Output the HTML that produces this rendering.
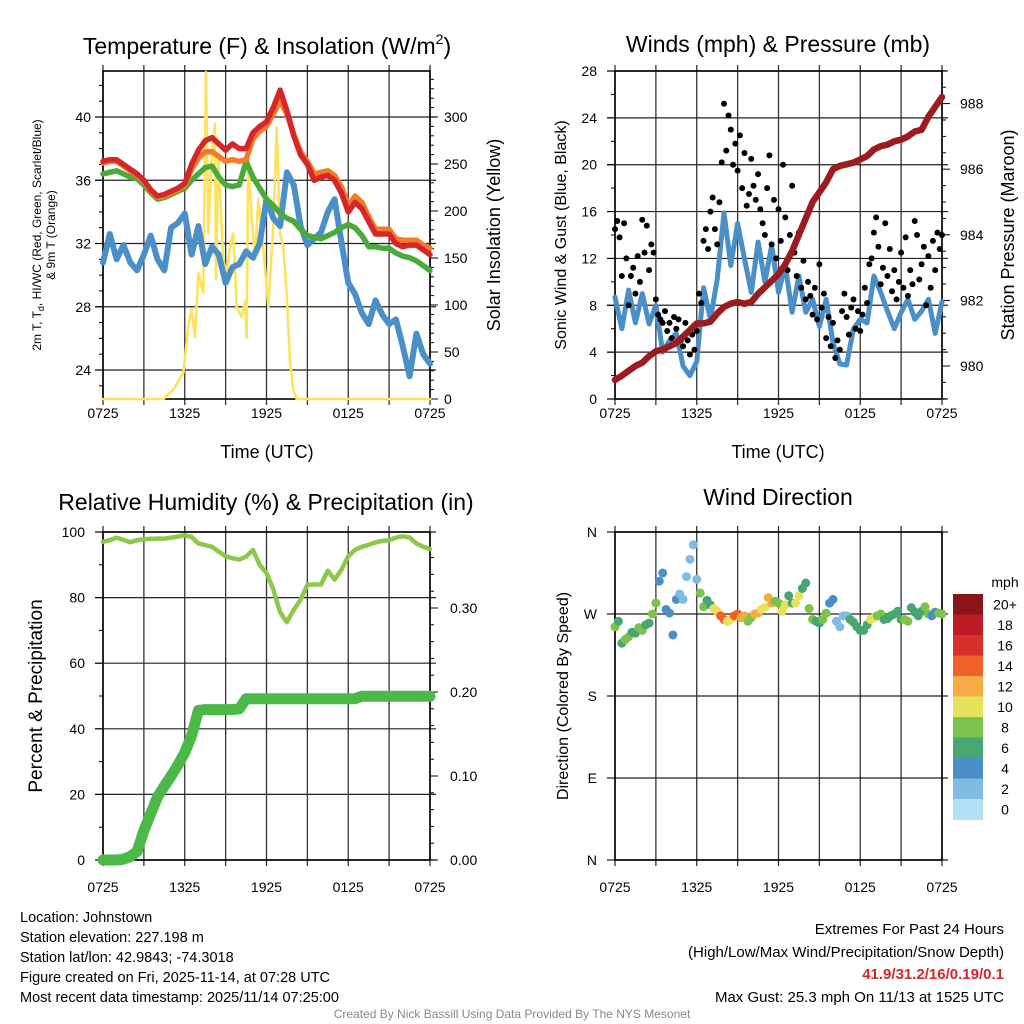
<!DOCTYPE html>
<html><head><meta charset="utf-8"><style>
html,body{margin:0;padding:0;background:#fff;}
svg{display:block;font-family:"Liberation Sans",sans-serif;}
</style></head><body>
<svg id="c" width="1024" height="1024" viewBox="0 0 1024 1024"></svg>
<script>
const timeTicks=["0725","1325","1925","0125","0725"];
const tempRed=[37.2,37.3,37.3,37.0,36.7,36.4,36.0,35.4,35.0,35.1,35.3,35.5,35.8,37.0,37.9,38.5,38.7,38.3,37.9,38.3,38.0,38.0,39.0,39.4,39.7,40.6,41.7,40.4,38.8,37.6,37.0,36.0,36.2,36.3,36.0,35.2,34.0,34.6,34.2,33.4,32.6,32.6,32.6,32.0,31.8,31.9,31.9,31.6,31.3];
const tempOrange=[37.1,37.2,37.2,36.9,36.6,36.3,35.9,35.3,34.9,35.0,35.2,35.4,35.7,36.7,37.4,37.8,37.8,37.5,37.2,37.3,37.2,37.3,38.6,39.1,39.4,40.2,41.0,40.2,38.9,37.8,37.2,36.4,36.5,36.6,36.3,35.6,34.4,35.0,34.6,33.7,32.9,32.9,32.9,32.3,32.2,32.2,32.2,31.9,31.7];
const tempGreen=[36.4,36.5,36.6,36.4,36.2,36.1,35.7,35.2,34.8,34.9,35.1,35.3,35.5,36.0,36.4,36.8,36.9,36.2,35.7,35.6,35.7,37.2,36.2,35.5,34.8,34.4,33.9,33.6,33.4,32.9,32.5,32.4,32.3,32.5,32.7,33.0,33.2,33.0,32.5,31.8,31.8,31.7,31.7,31.4,31.2,31.1,30.9,30.6,30.3];
const tempBlue=[30.8,32.6,31.0,31.9,30.8,30.3,31.3,32.5,31.0,30.3,33.0,33.3,33.9,31.3,33.1,30.7,31.8,31.3,29.5,30.5,30.7,31.5,31.1,32.0,34.8,33.6,33.1,36.5,35.7,33.1,31.9,32.3,32.7,34.0,34.8,32.1,29.5,28.8,27.6,26.9,28.4,27.5,26.9,27.2,25.5,23.6,26.3,25.0,24.4];
const solarHours=[0,4.43,5.16,5.90,6.26,6.51,6.75,7.00,7.36,7.56,7.73,7.97,8.22,8.29,8.46,8.83,9.08,9.32,9.56,9.81,10.18,10.42,10.54,10.66,10.91,11.16,11.40,11.76,12.13,12.50,12.75,12.99,13.23,13.48,13.72,13.97,14.21,24];
const solarVals=[0,0,10,28,77,96,66,134,113,348,176,254,293,127,258,148,134,162,176,98,87,104,65,255,195,148,213,162,98,184,289,176,162,113,41,10,0,0];
const windSpeed=[8.7,6.0,9.3,6.5,9.0,6.4,8.0,4.0,5.0,5.6,2.8,2.0,3.2,9.5,6.8,10.2,15.9,11.4,15.0,12.0,9.1,13.4,10.0,13.1,9.1,11.4,7.4,10.5,7.4,8.5,6.2,8.5,4.8,3.0,2.9,6.0,6.8,6.5,10.5,9.1,7.5,6.0,7.4,8.5,6.8,7.5,8.5,5.6,8.3];
const pressure=[979.58,979.7,979.85,980.0,980.1,980.3,980.45,980.5,980.6,980.7,980.9,981.1,981.3,981.3,981.35,981.6,981.8,981.9,981.95,981.9,981.95,982.2,982.4,982.6,982.8,983.1,983.5,984.0,984.5,985.0,985.3,985.6,986.0,986.1,986.15,986.2,986.3,986.4,986.6,986.7,986.75,986.85,986.9,987.0,987.15,987.2,987.6,987.9,988.2];
const gust=[14.5,15.2,13.8,10.5,15.0,12.0, 8.0,10.5,11.2,9.0,12.2,10.0, 15.3,12.5,14.8,11.0,13.2,12.5, 8.5,7.2,6.8,6.5,7.5,5.8, 6.5,5.2,7.0,6.0,6.8,5.0, 4.5,6.5,5.0,3.8,5.5,4.2, 5.8,9.0,8.2,13.5,14.5,12.8, 16.0,17.2,14.5,13.2,16.8,20.2, 25.2,21.2,24.2,23.0,20.0,21.8, 19.5,22.5,18.0,21.0,16.5,17.5, 20.5,18.2,17.0,19.2,16.2,15.0, 14.0,18.0,20.8,13.2,17.0,12.0, 16.2,13.5,20.0,15.5,11.0,14.0, 18.2,12.5,10.5,14.2,9.5,11.8, 8.5,10.0,8.8,7.2,9.5,6.8, 11.5,7.8,9.0,5.2,7.0,4.5, 6.5,3.5,5.0,4.2,7.5,9.0, 7.0,5.5,7.8,8.5,6.0,7.5, 5.8,7.2,9.5,8.2,11.5,12.0, 14.2,15.5,13.0,9.8,11.2,15.0, 10.5,12.8,9.2,11.0,8.5,10.0, 12.5,9.5,13.8,8.8,11.0,9.8, 15.2,14.0,10.2,11.5,13.0,8.0, 12.2,9.5,13.5,11.0,14.2,12.8, 14.0];
const rh=[97.0,97.5,98.3,97.6,96.9,97.5,97.8,97.9,98.0,98.0,98.3,98.6,99.0,98.5,96.5,96.0,95.5,94.0,92.6,92.0,91.6,92.5,94.5,90.0,87.5,82.5,75.5,72.5,76.3,79.4,83.9,84.0,84.0,88.2,85.5,88.5,92.6,94.6,95.5,96.1,96.8,97.3,97.5,98.3,98.7,98.3,96.5,95.5,94.8];
const precip=[0,0,0,0.001,0.004,0.01,0.035,0.055,0.075,0.088,0.1,0.113,0.128,0.148,0.178,0.179,0.179,0.179,0.179,0.179,0.180,0.192,0.192,0.192,0.192,0.192,0.192,0.192,0.192,0.192,0.192,0.192,0.192,0.192,0.192,0.192,0.192,0.192,0.195,0.195,0.195,0.195,0.195,0.195,0.195,0.195,0.195,0.195,0.195];
const windDir=[256,262,238,242,245, 250,249,255,252, 258,260,270,282, 306,315,275,271, 247,286,292,286, 311,330,346,308, 293,278,285,280, 276,273,268,264, 262,264,268,270, 266,268,262,266, 270,271,275,277, 288,282,284,282, 273,280,290,282, 282,290,298,304, 276,264,262,260, 264,271,282,286, 262,256,268,268, 264,261,256,252, 252,258,264,266, 268,270,264,265, 268,270,273,264, 264,262,277,272, 268,273,278,270, 268,272,271,270];
const speedBinColors=["#b3e2f7","#7fbbe3","#4a8fc7","#48a673","#7dc24a","#e6e25a","#f6ab44","#ef6128","#d9302a","#bb1c26","#8b1419"];
const speedBinLabels=["0","2","4","6","8","10","12","14","16","18","20+"];

const NS="http://www.w3.org/2000/svg";
const svg=document.getElementById('c');
function el(tag,attrs,parent){const e=document.createElementNS(NS,tag);for(const k in attrs)e.setAttribute(k,attrs[k]);(parent||svg).appendChild(e);return e;}
function txt(s,attrs,parent){const e=el('text',attrs,parent);e.textContent=s;return e;}
const W=327;
function xT(x0,h){return x0+h/24*W;}
function linePath(xs,ys){return xs.map((x,i)=>(i?'L':'M')+x.toFixed(1)+' '+ys[i].toFixed(1)).join(' ');}

function frame(x0,y0,y1,hLines,name){
  const g=el('g',{});
  
  
  for(let k=0;k<=8;k++){const x=x0+k*W/8;el('line',{x1:x,x2:x,y1:y0-6,y2:y1+6,stroke:'#333','stroke-width':1.3},g);}
  hLines.forEach(y=>el('line',{x1:x0-8,x2:x0+W+6,y1:y,y2:y,stroke:'#222','stroke-width':1.2},g));
  el('rect',{x:x0,y:y0,width:W,height:y1-y0,fill:'none',stroke:'#000','stroke-width':1.6},g);
}
function xLabels(x0,y,name){
  timeTicks.forEach((t,k)=>{const e=txt(t,{x:x0+k*W/4,y:y,'font-size':14,'text-anchor':'middle'});
    
    });
}
function title(s,x,y,name,size){const e=txt(s,{x:x,y:y,'font-size':size||23,'text-anchor':'middle'});
  
  return e;}
function vtitle(s,x,y,size,name){const e=txt(s,{x:0,y:0,'font-size':size,'text-anchor':'middle',transform:`translate(${x},${y}) rotate(-90)`});
  
  return e;}
function series(d,color,w,name,opac){const p=el('path',{d:d,fill:'none',stroke:color,'stroke-width':w,'stroke-linejoin':'round','stroke-linecap':'round',opacity:opac||1});
  
  return p;}

/* ---------- Panel 1: Temperature ---------- */
{
const x0=103,y0=71,y1=399;
const yT=v=>370-(v-24)*15.8125, yS=v=>399-v*0.94;
const tTicks=[24,28,32,36,40];
frame(x0,y0,y1,tTicks.map(yT),'temperature');
for(let v=23;v<=42;v++){el('line',{x1:x0-(v%4===0?8:4),x2:x0,y1:yT(v),y2:yT(v),stroke:'#000'});}
tTicks.forEach(v=>{const e=txt(String(v),{x:x0-12,y:yT(v)+5,'font-size':14,'text-anchor':'end'});
  
  });
for(let v=0;v<=340;v+=10){el('line',{x1:x0+W,x2:x0+W+(v%50===0?8:4),y1:yS(v),y2:yS(v),stroke:'#000'});}
for(let v=0;v<=300;v+=50){const e=txt(String(v),{x:x0+W+14,y:yS(v)+5,'font-size':14});
  
  }
const xs=tempRed.map((_,i)=>xT(x0,i/2));
series(linePath(solarHours.map(h=>xT(x0,h)),solarVals.map(yS)),'#fde35b',2.6,'solar-insolation-line');
series(linePath(xs,tempBlue.map(yT)),'#4a8fc7',6,'wind-chill-line');
series(linePath(xs,tempGreen.map(yT)),'#4bab3a',5.5,'dewpoint-line');
series(linePath(xs,tempOrange.map(yT)),'#f07c2b',5.5,'temp-9m-line');
series(linePath(xs,tempRed.map(yT)),'#d7262a',5.5,'temp-2m-line');
const tt=el('text',{x:267,y:54,'font-size':23,'text-anchor':'middle'});


tt.innerHTML='Temperature (F) &amp; Insolation (W/m<tspan font-size="14" dy="-10">2</tspan><tspan dy="10">)</tspan>';
xLabels(x0,418,'temperature');
title('Time (UTC)',267,458,'temperature-x-axis-title',18);
vtitle('Solar Insolation (Yellow)',500,235,18,'solar-y-axis-title');
const yt=txt('',{x:0,y:0,'font-size':12,'text-anchor':'middle',transform:'translate(41,235) rotate(-90)'});


yt.innerHTML='2m T, T<tspan font-size="9" dy="3">d</tspan><tspan dy="-3">, HI/WC (Red, Green, Scarlet/Blue)</tspan>';
const yt2=txt('& 9m T (Orange)',{x:0,y:0,'font-size':12,'text-anchor':'middle',transform:'translate(55,235) rotate(-90)'});


}

/* ---------- Panel 2: Winds & Pressure ---------- */
{
const x0=615,y0=71,y1=399;
const yW=v=>399-v*328/28, yP=v=>366-(v-980)*32.8;
const wTicks=[0,4,8,12,16,20,24,28];
frame(x0,y0,y1,wTicks.map(yW),'winds');
for(let v=0;v<=28;v+=2){el('line',{x1:x0-(v%4===0?8:4),x2:x0,y1:yW(v),y2:yW(v),stroke:'#000'});}
wTicks.forEach(v=>{const e=txt(String(v),{x:x0-18,y:yW(v)+5,'font-size':14,'text-anchor':'end'});
  
  });
for(let v=979;v<=989;v+=0.5){el('line',{x1:x0+W,x2:x0+W+(Math.abs(v%2)<0.01?8:4),y1:yP(v),y2:yP(v),stroke:'#000'});}
for(let v=980;v<=988;v+=2){const e=txt(String(v),{x:x0+W+18,y:yP(v)+5,'font-size':14});
  
  }
const xs=windSpeed.map((_,i)=>xT(x0,i/2));
series(linePath(xs,windSpeed.map(yW)),'#4a8fc7',5,'sonic-wind-line');
const g=el('g',{});


gust.forEach((v,i)=>{const c=el('circle',{cx:xT(x0,i/6),cy:yW(v),r:3,fill:'#000'},g);
  
  });
series(linePath(xs,pressure.map(yP)),'#9b1b1f',6.5,'pressure-line');
title('Winds (mph) & Pressure (mb)',778,52,'winds-title');
xLabels(x0,418,'winds');
title('Time (UTC)',778,458,'winds-x-axis-title',18);
vtitle('Sonic Wind & Gust (Blue, Black)',566,235,16,'wind-y-axis-title');
vtitle('Station Pressure (Maroon)',1014,235,18,'pressure-y-axis-title');
}

/* ---------- Panel 3: RH & Precip ---------- */
{
const x0=103,y0=532,y1=860;
const yR=v=>860-v*3.28, yQ=v=>860-v*840;
const rTicks=[0,20,40,60,80,100];
frame(x0,y0,y1,rTicks.map(yR),'humidity');
for(let v=0;v<=100;v+=10){el('line',{x1:x0-(v%20===0?8:4),x2:x0,y1:yR(v),y2:yR(v),stroke:'#000'});}
rTicks.forEach(v=>{const e=txt(String(v),{x:x0-18,y:yR(v)+5,'font-size':14,'text-anchor':'end'});
  
  });
for(let v=0;v<=0.38;v+=0.02){el('line',{x1:x0+W,x2:x0+W+(Math.round(v*100)%10===0?8:4),y1:yQ(v),y2:yQ(v),stroke:'#000'});}
[0,0.1,0.2,0.3].forEach(v=>{const e=txt(v.toFixed(2),{x:x0+W+20,y:yQ(v)+5,'font-size':14});
  
  });
const xs=rh.map((_,i)=>xT(x0,i/2));
series(linePath(xs,rh.map(yR)),'#8cc84b',4.5,'relative-humidity-line');
series(linePath(xs,precip.map(yQ)),'#4cb848',11,'precipitation-line');
title('Relative Humidity (%) & Precipitation (in)',266,510,'humidity-title');
xLabels(x0,892,'humidity');
vtitle('Percent & Precipitation',42,696,19,'humidity-y-axis-title');
}

/* ---------- Panel 4: Wind direction ---------- */
{
const x0=615,y0=532,y1=860;
const yD=v=>860-v*328/360;
const dTicks=[0,90,180,270,360], dLabels=["N","E","S","W","N"];
frame(x0,y0,y1,dTicks.map(yD),'direction');
dTicks.forEach((v,k)=>{const e=txt(dLabels[k],{x:x0-18,y:yD(v)+5,'font-size':14,'text-anchor':'end'});
  
  });
const g=el('g',{});


windDir.forEach((v,k)=>{const sp=windSpeed[Math.min(48,Math.round(k/2))];
  const bin=Math.min(10,Math.floor(sp/2));
  const c=el('circle',{cx:xT(x0,k/4),cy:yD(v),r:4.5,fill:speedBinColors[bin]},g);
  
  });
title('Wind Direction',778,505,'direction-title');
xLabels(x0,892,'direction');
vtitle('Direction (Colored By Speed)',568,696,16,'direction-y-axis-title');
const lg=el('g',{});


const bh=20.5, by0=594;
speedBinColors.slice().reverse().forEach((col,j)=>{el('rect',{x:953,y:by0+j*bh,width:30,height:bh+0.5,fill:col},lg);});
speedBinLabels.slice().reverse().forEach((l,j)=>{const e=txt(l,{x:1005,y:by0+j*bh+bh/2+5,'font-size':14,'text-anchor':'middle'},lg);
  
  });
const u=txt('mph',{x:1005,y:587,'font-size':14,'text-anchor':'middle'},lg);


}

/* ---------- Footer ---------- */
const leftInfo=["Location: Johnstown","Station elevation: 227.198 m","Station lat/lon: 42.9843; -74.3018","Figure created on Fri, 2025-11-14, at 07:28 UTC","Most recent data timestamp: 2025/11/14 07:25:00"];
leftInfo.forEach((s,i)=>{const e=txt(s,{x:20,y:922+i*20,'font-size':14.5});
  
  });
[["Extremes For Past 24 Hours",934,'#000','normal'],["(High/Low/Max Wind/Precipitation/Snow Depth)",957,'#000','normal'],["41.9/31.2/16/0.19/0.1",979,'#d7262a','bold'],["Max Gust: 25.3 mph On 11/13 at 1525 UTC",1002,'#000','normal']].forEach(r=>{
  const e=txt(r[0],{x:1004,y:r[1],'font-size':15,'text-anchor':'end',fill:r[2],'font-weight':r[3]});
  
  });
const cr=txt('Created By Nick Bassill Using Data Provided By The NYS Mesonet',{x:512,y:1018,'font-size':12,'text-anchor':'middle',fill:'#888'});


</script>
</body></html>
